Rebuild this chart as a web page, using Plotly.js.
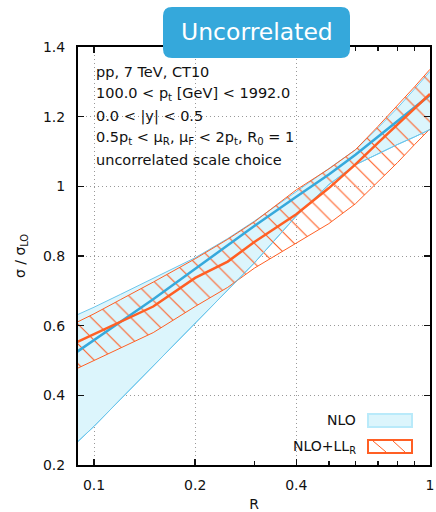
<!DOCTYPE html>
<html>
<head>
<meta charset="utf-8">
<script src="https://cdn.plot.ly/plotly-3.0.1.min.js"></script>
<style>html,body{margin:0;padding:0;background:#fff;}#chart{width:436px;height:512px;}</style>
</head>
<body>
<div id="chart"></div>
<script>
// Data
const R      = [0.089, 0.1, 0.12, 0.15, 0.2, 0.25, 0.3, 0.4, 0.5, 0.6, 0.7, 0.8, 0.9, 1.0];
const nloC   = [0.525, 0.558, 0.611, 0.676, 0.763, 0.830, 0.886, 0.970, 1.034, 1.091, 1.143, 1.189, 1.228, 1.262];
const nloHi  = [0.631, 0.653, 0.690, 0.735, 0.795, 0.850, 0.900, 0.985, 1.050, 1.105, 1.168, 1.225, 1.280, 1.330];
const nloLo  = [0.265, 0.311, 0.389, 0.484, 0.606, 0.701, 0.780, 0.915, 1.005, 1.062, 1.094, 1.120, 1.142, 1.163];
const llC    = [0.553, 0.576, 0.612, 0.655, 0.737, 0.784, 0.840, 0.920, 0.995, 1.063, 1.125, 1.177, 1.223, 1.265];
const llHi   = [0.610, 0.634, 0.675, 0.725, 0.792, 0.848, 0.898, 0.990, 1.050, 1.105, 1.172, 1.232, 1.286, 1.336];
const llLo   = [0.477, 0.500, 0.538, 0.580, 0.655, 0.710, 0.765, 0.836, 0.893, 0.950, 1.012, 1.068, 1.120, 1.165];

const xTickVals = [0.1, 0.2, 0.4, 1];
const xTickText = ['0.1', '0.2', '0.4', '1'];
const xMinorVals = [0.3, 0.5, 0.6, 0.7, 0.8, 0.9];
const yTickVals = [0.2, 0.4, 0.6, 0.8, 1.0, 1.2, 1.4];
const yTickText = ['0.2', '0.4', '0.6', '0.8', '1', '1.2', '1.4'];

const infoLines = [
  'pp, 7 TeV, CT10',
  '100.0 &lt; p<sub>t</sub> [GeV] &lt; 1992.0',
  '0.0 &lt; |y| &lt; 0.5',
  '0.5p<sub>t</sub> &lt; μ<sub>R</sub>, μ<sub>F</sub> &lt; 2p<sub>t</sub>, R<sub>0</sub> = 1',
  'uncorrelated scale choice'
];
const legendNames = ['NLO', 'NLO+LL<sub>R</sub>'];

const BLUE = '#36a9dc', BLUE_EDGE = '#6cc6ec', BLUE_FILL = '#dcf5fc';
const ORANGE = '#ff5f24';
const FONT = 'DejaVu Sans, Verdana, sans-serif';

const traces = [
  {x: R, y: nloLo, mode: 'lines', line: {color: BLUE_EDGE, width: 1}, hoverinfo: 'skip', showlegend: false},
  {x: R, y: nloHi, mode: 'lines', line: {color: BLUE_EDGE, width: 1}, fill: 'tonexty', fillcolor: BLUE_FILL, hoverinfo: 'skip', showlegend: false},
  {x: R, y: llLo, mode: 'lines', line: {color: ORANGE, width: 1}, hoverinfo: 'skip', showlegend: false},
  {x: R, y: llHi, mode: 'lines', line: {color: ORANGE, width: 1}, fill: 'tonexty', fillcolor: 'rgba(0,0,0,0)',
   fillpattern: {shape: '\\', fgcolor: ORANGE, bgcolor: 'rgba(0,0,0,0)', size: 14, solidity: 0.08},
   hoverinfo: 'skip', showlegend: false},
  {x: R, y: nloLo, mode: 'lines', line: {color: BLUE_EDGE, width: 1}, hoverinfo: 'skip', showlegend: false},
  {x: R, y: nloC, mode: 'lines', line: {color: BLUE, width: 2.5}, showlegend: false},
  {x: R, y: llC, mode: 'lines', line: {color: ORANGE, width: 2.5}, showlegend: false}
];

const W = 352, H = 418; // plot area pixel size
const px = (x) => (x - 78) / W;
const py = (y) => (465 - y) / H;

const annotations = [];
const lineY = [72, 94, 116, 138, 160];
infoLines.forEach((t, i) => {
  annotations.push({xref: 'paper', yref: 'paper', x: px(94), y: py(lineY[i]), xanchor: 'left', yanchor: 'middle',
    text: t, showarrow: false, font: {family: FONT, size: 14.5, color: '#111'}});
});
annotations.push({xref: 'paper', yref: 'paper', x: px(358), y: py(420), xanchor: 'right', yanchor: 'middle',
  text: legendNames[0], showarrow: false, font: {family: FONT, size: 14, color: '#111'}});
annotations.push({xref: 'paper', yref: 'paper', x: px(358), y: py(447), xanchor: 'right', yanchor: 'middle',
  text: legendNames[1], showarrow: false, font: {family: FONT, size: 14, color: '#111'}});
annotations.push({xref: 'paper', yref: 'paper', x: px(256.5), y: py(32.5), xanchor: 'center', yanchor: 'middle',
  text: 'Uncorrelated', showarrow: false, font: {family: FONT, size: 23.5, color: '#ffffff'}});

const hw = 93.5, hh = 25.5, r = 9;
const roundRect = `M ${-hw + r},${-hh} L ${hw - r},${-hh} Q ${hw},${-hh} ${hw},${-hh + r} L ${hw},${hh - r} Q ${hw},${hh} ${hw - r},${hh} L ${-hw + r},${hh} Q ${-hw},${hh} ${-hw},${hh - r} L ${-hw},${-hh + r} Q ${-hw},${-hh} ${-hw + r},${-hh} Z`;

const shapes = [
  // legend swatches
  {type: 'rect', xref: 'paper', yref: 'paper', x0: px(368), x1: px(412), y0: py(427), y1: py(414),
   fillcolor: BLUE_FILL, line: {color: '#b9eafa', width: 2}, layer: 'above'},
  {type: 'rect', xref: 'paper', yref: 'paper', x0: px(368), x1: px(412), y0: py(453), y1: py(440),
   fillcolor: '#ffffff', line: {color: ORANGE, width: 2}, layer: 'above'},
  {type: 'line', xref: 'paper', yref: 'paper', x0: px(373), x1: px(386), y0: py(441), y1: py(452),
   line: {color: ORANGE, width: 1}, layer: 'above'},
  {type: 'line', xref: 'paper', yref: 'paper', x0: px(393), x1: px(405), y0: py(441), y1: py(452),
   line: {color: ORANGE, width: 1}, layer: 'above'},
  // title box
  {type: 'path', xref: 'paper', yref: 'paper', xsizemode: 'pixel', ysizemode: 'pixel',
   xanchor: px(256.5), yanchor: py(32.5), path: roundRect,
   fillcolor: '#35a8db', line: {color: '#35a8db', width: 0}, layer: 'above'}
];

const layout = {
  width: 436, height: 512,
  margin: {l: 78, r: 6, t: 47, b: 47},
  paper_bgcolor: '#fff', plot_bgcolor: '#fff',
  showlegend: false,
  font: {family: FONT, size: 14, color: '#111'},
  xaxis: {
    type: 'log', range: [Math.log10(0.0896), Math.log10(1.0)],
    tickvals: xTickVals, ticktext: xTickText,
    ticks: 'inside', ticklen: 6, tickwidth: 1.5, tickcolor: '#111',
    showline: true, linecolor: '#000', linewidth: 2, mirror: 'ticks',
    showgrid: true, gridcolor: '#999999', griddash: '1px,3px', gridwidth: 1,
    zeroline: false, ticklabelstandoff: 6,
    tickfont: {family: FONT, size: 14, color: '#111'},
    minor: {tickvals: xMinorVals, ticks: 'inside', ticklen: 4, tickcolor: '#111', tickwidth: 1.5, showgrid: false},
    title: {text: 'R', font: {family: FONT, size: 14, color: '#111'}, standoff: 14}
  },
  yaxis: {
    range: [0.2, 1.4],
    tickvals: yTickVals, ticktext: yTickText,
    ticks: 'inside', ticklen: 6, tickwidth: 1.5, tickcolor: '#111',
    showline: true, linecolor: '#000', linewidth: 2, mirror: 'ticks',
    showgrid: true, gridcolor: '#999999', griddash: '1px,3px', gridwidth: 1,
    zeroline: false, ticklabelstandoff: 8,
    tickfont: {family: FONT, size: 14, color: '#111'},
    title: {text: 'σ / σ<sub>LO</sub>', font: {family: FONT, size: 14, color: '#111'}, standoff: 14}
  },
  annotations: annotations,
  shapes: shapes
};

Plotly.newPlot('chart', traces, layout, {displayModeBar: false, staticPlot: true});
</script>
</body>
</html>
